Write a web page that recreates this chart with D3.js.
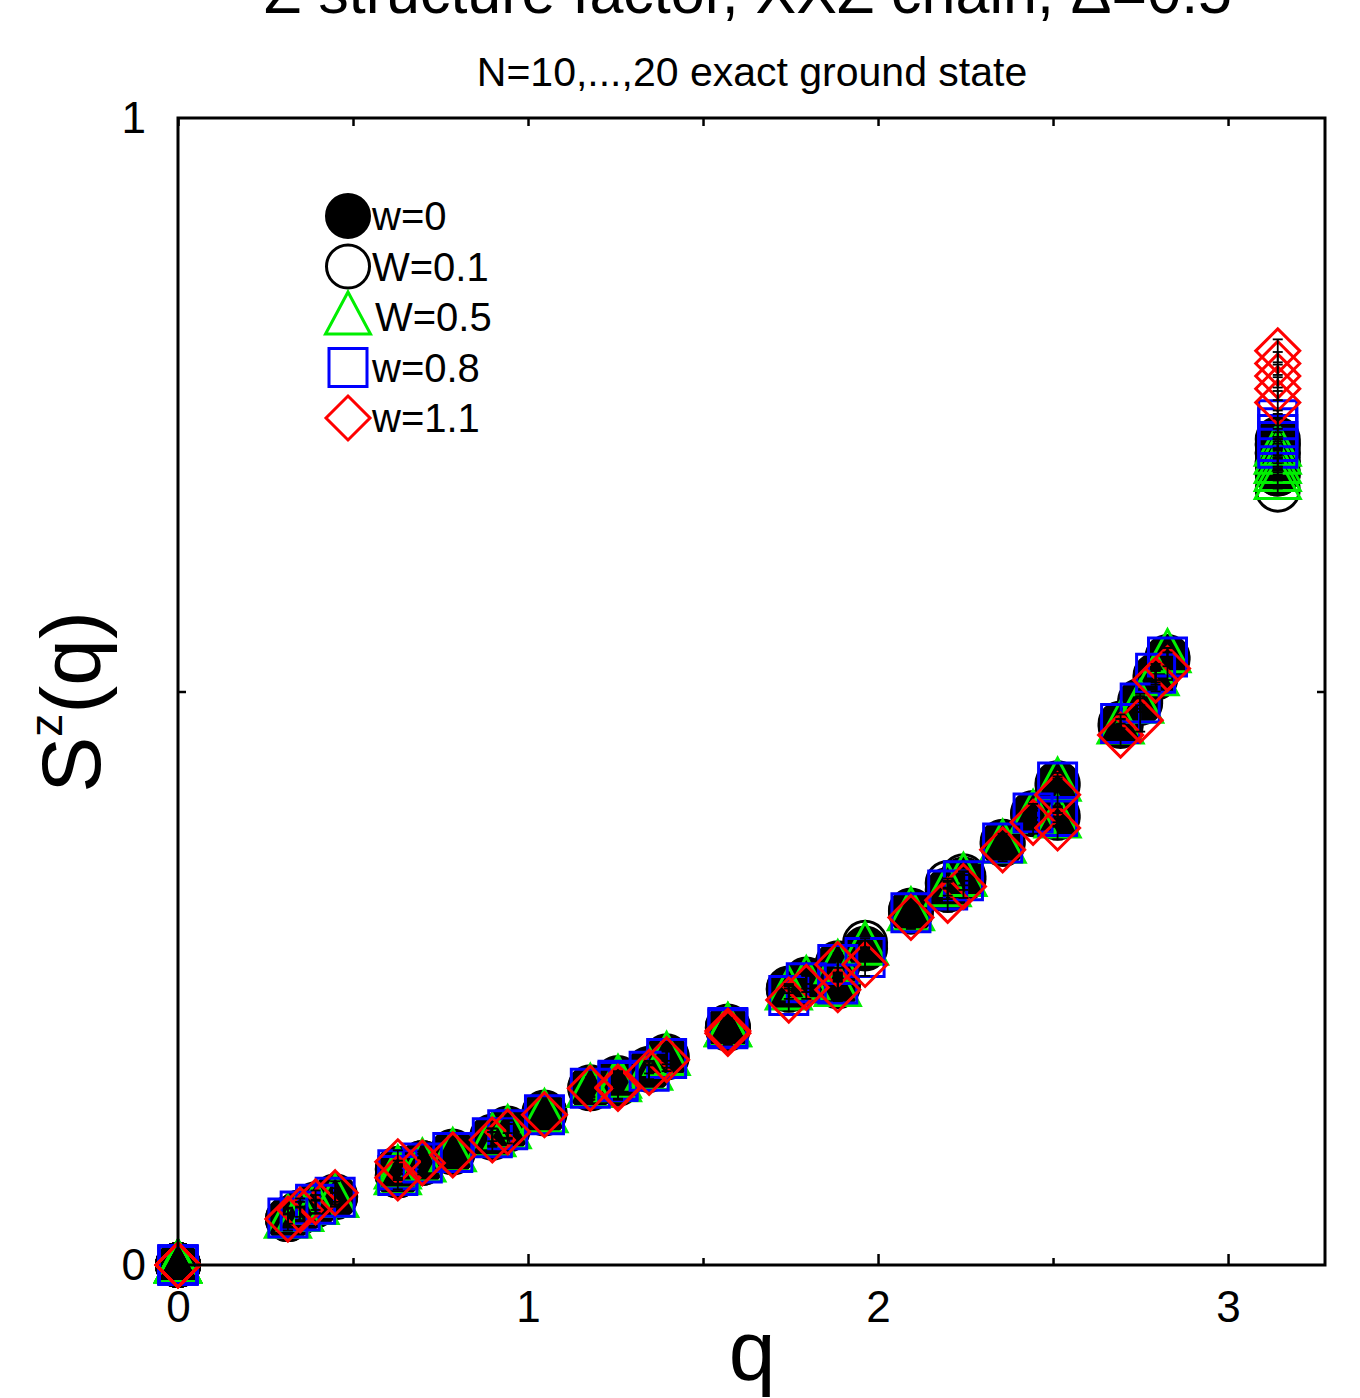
<!DOCTYPE html>
<html>
<head>
<meta charset="utf-8">
<script src="https://cdn.jsdelivr.net/npm/d3@7"></script>
<style>
  html, body { margin: 0; padding: 0; background: #fff; }
  svg { display: block; }
  text { font-family: "Liberation Sans", Arial, sans-serif; fill: #000; }
</style>
</head>
<body>
<svg id="chart" width="1360" height="1398"></svg>
<script>
// Momentum grid, grouped by chain length: N=10 | 14 | 16 | 18 | 20
const chainSizes = [10, 14, 16, 18, 20];
const qValues = [
  0, 0.628, 1.257, 1.885, 2.513, 3.142,
  0, 0.449, 0.898, 1.346, 1.795, 2.244, 2.693, 3.142,
  0, 0.393, 0.785, 1.178, 1.571, 1.963, 2.356, 2.749, 3.142,
  0, 0.349, 0.698, 1.047, 1.396, 1.745, 2.094, 2.443, 2.793, 3.142,
  0, 0.314, 0.628, 0.942, 1.257, 1.571, 1.885, 2.199, 2.513, 2.827, 3.142
];

// S^z(q) for each disorder strength, same ordering as qValues
const sW0 = [
  0, 0.084, 0.163, 0.243, 0.392, 0.690,
  0, 0.060, 0.111, 0.170, 0.247, 0.336, 0.470, 0.700,
  0, 0.053, 0.098, 0.154, 0.207, 0.276, 0.367, 0.490, 0.708,
  0, 0.046, 0.089, 0.132, 0.181, 0.240, 0.308, 0.393, 0.512, 0.715,
  0, 0.040, 0.078, 0.118, 0.158, 0.206, 0.262, 0.327, 0.418, 0.528, 0.720
];
const sW01 = [
  0, 0.083, 0.162, 0.244, 0.390, 0.676,
  0, 0.059, 0.112, 0.171, 0.249, 0.339, 0.472, 0.690,
  0, 0.052, 0.099, 0.155, 0.208, 0.281, 0.369, 0.492, 0.700,
  0, 0.046, 0.089, 0.133, 0.182, 0.241, 0.309, 0.394, 0.514, 0.708,
  0, 0.040, 0.078, 0.119, 0.160, 0.207, 0.263, 0.333, 0.420, 0.530, 0.716
];
const sW05 = [
  0, 0.082, 0.161, 0.241, 0.388, 0.683,
  0, 0.057, 0.110, 0.168, 0.247, 0.337, 0.470, 0.690,
  0, 0.051, 0.097, 0.153, 0.206, 0.277, 0.366, 0.488, 0.697,
  0, 0.045, 0.088, 0.131, 0.181, 0.238, 0.307, 0.392, 0.512, 0.705,
  0, 0.039, 0.077, 0.117, 0.158, 0.206, 0.261, 0.328, 0.420, 0.532, 0.712
];
const sW08 = [
  0, 0.083, 0.160, 0.245, 0.391, 0.712,
  0, 0.059, 0.111, 0.169, 0.246, 0.335, 0.472, 0.718,
  0, 0.053, 0.098, 0.154, 0.206, 0.268, 0.368, 0.490, 0.724,
  0, 0.047, 0.089, 0.131, 0.180, 0.235, 0.307, 0.394, 0.516, 0.730,
  0, 0.041, 0.078, 0.118, 0.161, 0.207, 0.262, 0.327, 0.421, 0.530, 0.737
];
const sW11 = [
  0, 0.090, 0.154, 0.240, 0.381, 0.752,
  0, 0.063, 0.109, 0.168, 0.242, 0.330, 0.462, 0.764,
  0, 0.055, 0.096, 0.154, 0.202, 0.262, 0.362, 0.475, 0.775,
  0, 0.048, 0.089, 0.131, 0.179, 0.231, 0.303, 0.386, 0.510, 0.786,
  0, 0.040, 0.076, 0.116, 0.155, 0.204, 0.262, 0.318, 0.410, 0.520, 0.797
];

// Statistical error of the disorder average (half-width), per series
const sErrors = [0, 0.004, 0.006, 0.008, 0.010];

const seriesLabels = ["w=0", "W=0.1", "W=0.5", "w=0.8", "w=1.1"];
const seriesValues = [sW0, sW01, sW05, sW08, sW11];
const seriesShapes = ["disc", "circle", "triangle", "square", "diamond"];
const seriesColors = ["#000000", "#000000", "#00ee00", "#0000ff", "#ff0000"];

const xMajorTicks = [0, 1, 2, 3];
const xMinorTicks = [0.5, 1.5, 2.5];
const yMajorTicks = [0, 1];
const yMinorTicks = [0.5];

const svg = d3.select("#chart");
const plot = { left: 178, right: 1325, top: 118, bottom: 1265 };

const x = d3.scaleLinear().domain([0, 3.277]).range([plot.left, plot.right]);
const y = d3.scaleLinear().domain([0, 1]).range([plot.bottom, plot.top]);

// Marker outlines, centred on the origin
function markerPath(shape) {
  const p = d3.path();
  if (shape === "disc" || shape === "circle") {
    p.arc(0, 0, 21.5, 0, 2 * Math.PI);
  } else if (shape === "triangle") {
    p.moveTo(0, -25); p.lineTo(22.5, 17); p.lineTo(-22.5, 17); p.closePath();
  } else if (shape === "square") {
    p.rect(-19, -19, 38, 38);
  } else if (shape === "diamond") {
    p.moveTo(0, -22); p.lineTo(22, 0); p.lineTo(0, 22); p.lineTo(-22, 0); p.closePath();
  }
  return p.toString();
}
function styleMarker(sel, i) {
  const shape = seriesShapes[i];
  sel.attr("d", markerPath(shape))
    .attr("fill", shape === "disc" ? "#000" : "none")
    .attr("stroke", seriesColors[i])
    .attr("stroke-width", 3);
}

// Titles (the main title sits partly above the top edge of the page)
svg.append("text").attr("x", 748).attr("y", 13).attr("text-anchor", "middle")
  .attr("font-size", 61).text("Z structure factor, XXZ chain, \u0394=0.5");
svg.append("text").attr("x", 752).attr("y", 86).attr("text-anchor", "middle")
  .attr("font-size", 41).text("N=10,...,20 exact ground state");

// Data markers
const pointsLayer = svg.append("g");
seriesValues.forEach((vals, i) => {
  pointsLayer.append("g").selectAll("path")
    .data(vals.map((s, k) => ({ q: qValues[k], s })))
    .join("path")
    .call(styleMarker, i)
    .attr("transform", d => `translate(${x(d.q)},${y(d.s)})`);
});

// Error bars of the disorder-averaged series
const errLayer = svg.append("g").attr("stroke", "#000").attr("stroke-width", 1.8);
seriesValues.forEach((vals, i) => {
  if (sErrors[i] === 0) return;
  vals.forEach((s, k) => {
    if (s === 0) return;
    const e = sErrors[i];
    const cx = x(qValues[k]);
    const y0 = y(s - e), y1 = y(s + e);
    errLayer.append("line").attr("x1", cx).attr("x2", cx).attr("y1", y0).attr("y2", y1);
    errLayer.append("line").attr("x1", cx - 5).attr("x2", cx + 5).attr("y1", y0).attr("y2", y0);
    errLayer.append("line").attr("x1", cx - 5).attr("x2", cx + 5).attr("y1", y1).attr("y2", y1);
  });
});

// Frame and axes
const axisLayer = svg.append("g");
function styleAxis(g) {
  g.select(".domain").remove();
  g.selectAll(".tick line").attr("stroke", "#000").attr("stroke-width", 2.5);
  g.selectAll(".tick text").attr("font-family", "Liberation Sans, Arial, sans-serif");
}
axisLayer.append("g").attr("transform", `translate(0,${plot.bottom})`)
  .call(d3.axisBottom(x).tickValues(xMajorTicks).tickFormat(d3.format("d")).tickSizeInner(-11).tickPadding(26))
  .call(styleAxis)
  .call(g => g.selectAll(".tick text").attr("font-size", 44).attr("dy", "0.71em"));
axisLayer.append("g").attr("transform", `translate(0,${plot.bottom})`)
  .call(d3.axisBottom(x).tickValues(xMinorTicks).tickFormat("").tickSizeInner(-7))
  .call(styleAxis);
axisLayer.append("g").attr("transform", `translate(0,${plot.top})`)
  .call(d3.axisTop(x).tickValues(xMajorTicks.concat(xMinorTicks)).tickFormat("").tickSizeInner(-8))
  .call(styleAxis);
axisLayer.append("g").attr("transform", `translate(${plot.left},0)`)
  .call(d3.axisLeft(y).tickValues(yMajorTicks).tickFormat(d3.format("d")).tickSizeInner(0).tickPadding(32))
  .call(styleAxis)
  .call(g => g.selectAll(".tick text").attr("font-size", 44));
axisLayer.append("g").attr("transform", `translate(${plot.left},0)`)
  .call(d3.axisLeft(y).tickValues(yMinorTicks).tickFormat("").tickSizeInner(-8))
  .call(styleAxis);
axisLayer.append("g").attr("transform", `translate(${plot.right},0)`)
  .call(d3.axisRight(y).tickValues(yMinorTicks).tickFormat("").tickSizeInner(-8))
  .call(styleAxis);
axisLayer.append("rect")
  .attr("x", plot.left).attr("y", plot.top)
  .attr("width", plot.right - plot.left).attr("height", plot.bottom - plot.top)
  .attr("fill", "none").attr("stroke", "#000").attr("stroke-width", 3);

// Axis titles
svg.append("text").attr("x", 752).attr("y", 1380).attr("text-anchor", "middle")
  .attr("font-size", 84).text("q");
const yTitle = svg.append("text")
  .attr("transform", "translate(100,702) rotate(-90)")
  .attr("text-anchor", "middle").attr("font-size", 84);
yTitle.append("tspan").text("S");
yTitle.append("tspan").attr("font-size", 46).attr("dy", -38).text("z");
yTitle.append("tspan").attr("dy", 38).text("(q)");

// Legend
const legend = svg.append("g");
seriesLabels.forEach((label, i) => {
  const cy = 216 + i * 50.5;
  legend.append("path").call(styleMarker, i).attr("transform", `translate(348,${cy})`);
  legend.append("text").attr("x", i === 2 ? 375 : 372).attr("y", cy + 14)
    .attr("font-size", 40).text(label);
});
</script>
</body>
</html>
